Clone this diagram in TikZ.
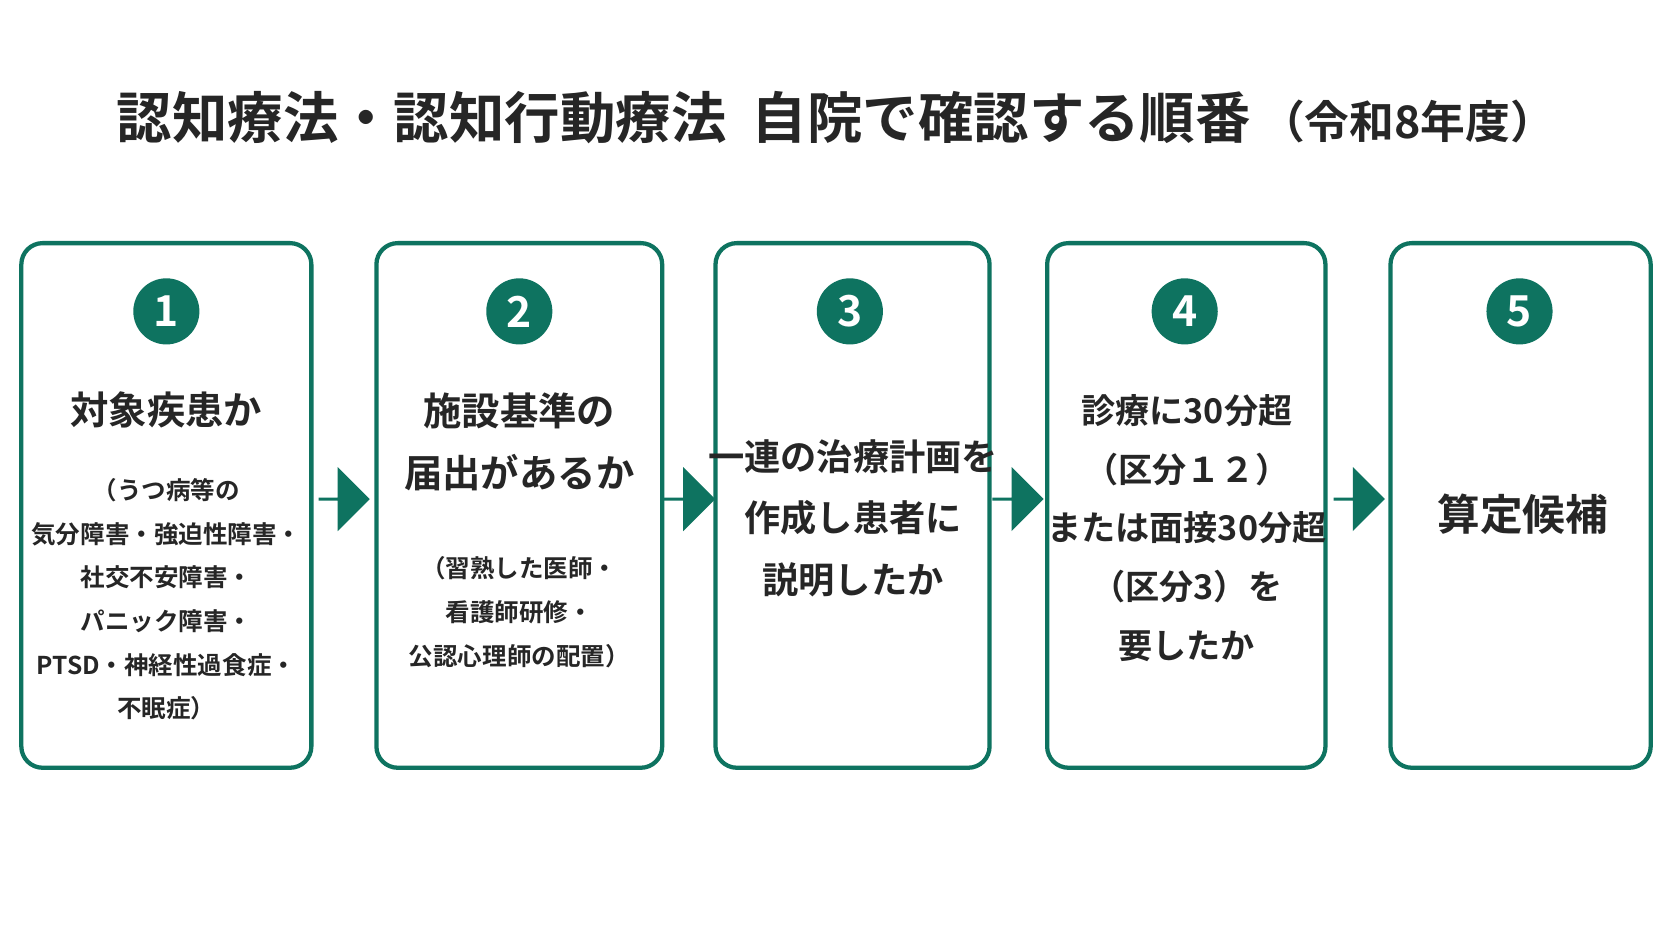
\documentclass[tikz,border=0pt]{standalone}
\usepackage{fontspec}
\setmainfont{Noto Sans CJK JP}[BoldFont={Noto Sans CJK JP Bold}]
\usetikzlibrary{shapes.arrows}
\definecolor{gr}{HTML}{0E7360}
\begin{document}
\begin{tikzpicture}[x=0.5pt,y=-0.5pt,
 box/.style={draw=gr,line width=2pt,rounded corners=10pt,fill=white},
 num/.style={circle,fill=gr,text=white,minimum size=31pt,inner sep=0pt,font=\bfseries\fontsize{20}{20}\selectfont},
 head/.style={align=center,font=\bfseries\fontsize{18}{29}\selectfont,text=black!85},
 sub/.style={align=center,font=\bfseries\fontsize{11.5}{20.5}\selectfont,text=black!85},
 arr/.style={single arrow,fill=gr,minimum height=24pt,minimum width=30pt,single arrow head extend=4pt,inner sep=0pt}]
\useasboundingbox (0,0) rectangle (1568,882);
\fill[white] (0,0) rectangle (1568,882);
\node[font=\bfseries\fontsize{26}{26}\selectfont,text=black!85] (title) at (784,110) {認知療法・認知行動療法\ \ 自院で確認する順番\,{\fontsize{21}{21}\selectfont（令和8年度）}};
\draw[box] (20,228) rectangle (292,720) coordinate (b1);
\draw[box] (353,228) rectangle (621,720);
\draw[box] (671,228) rectangle (928,720);
\draw[box] (982,228) rectangle (1243,720);
\draw[box] (1304,228) rectangle (1548,720);
\node[num] (n1) at (156,292) {1};
\node[num] (n2) at (487,292) {2};
\node[num] (n3) at (797,292) {3};
\node[num] (n4) at (1111,292) {4};
\node[num] (n5) at (1425,292) {5};
\node[head] (h1) at (156,384) {対象疾患か};
\node[sub] (s1) at (156,562) {（うつ病等の\\気分障害・強迫性障害・\\社交不安障害・\\パニック障害・\\PTSD・神経性過食症・\\不眠症）};
\node[head] (h2) at (487,414) {施設基準の\\届出があるか};
\node[sub] (s2) at (487,574) {（習熟した医師・\\看護師研修・\\公認心理師の配置）};
\node[head,font=\bfseries\fontsize{17}{29}\selectfont] (h3) at (800,486) {一連の治療計画を\\作成し患者に\\説明したか};
\node[head,font=\bfseries\fontsize{16}{27.5}\selectfont] (h4) at (1113,495) {診療に30分超\\（区分１２）\\または面接30分超\\（区分3）を\\要したか};
\node[head,font=\bfseries\fontsize{20}{20}\selectfont] (h5) at (1428,482) {算定候補};
\node[arr] (a1) at (322,468) {};
\node[arr] (a2) at (646,468) {};
\node[arr] (a3) at (954,468) {};
\node[arr] (a4) at (1274,468) {};
\end{tikzpicture}
\end{document}
